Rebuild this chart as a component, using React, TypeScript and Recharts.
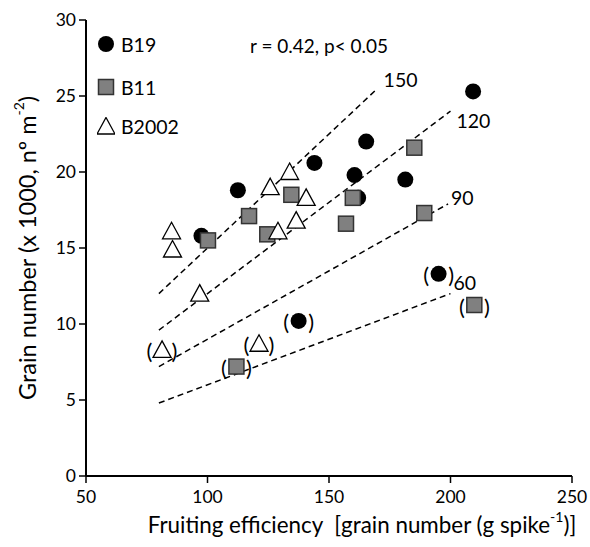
import React from 'react';
import {
  ScatterChart,
  Scatter,
  XAxis,
  YAxis,
  ReferenceLine,
  ReferenceDot
} from 'recharts';

// B19 (black circles)
const b19X = [97.5, 112.5, 144.0, 165.3, 160.5, 162.0, 181.4, 209.3];
const b19Y = [15.8, 18.8, 20.6, 22.0, 19.8, 18.3, 19.5, 25.3];
const b19OutX = [137.5, 195.1];
const b19OutY = [10.2, 13.3];

// B11 (grey squares)
const b11X = [100.2, 117.1, 134.5, 124.6, 159.8, 157.0, 185.1, 189.2];
const b11Y = [15.5, 17.1, 18.5, 15.9, 18.3, 16.6, 21.6, 17.3];
const b11OutX = [209.8, 111.9];
const b11OutY = [11.25, 7.2];

// B2002 (open triangles)
const b2002X = [85.2, 85.6, 125.8, 133.8, 140.6, 136.5, 129.0, 96.8];
const b2002Y = [16.1, 14.9, 19.0, 20.0, 18.3, 16.8, 16.1, 12.0];
const b2002OutX = [81.3, 121.2];
const b2002OutY = [8.3, 8.7];

// dashed iso-lines (spike weight), start/end
const isoLabels = ['150', '120', '90', '60'];
const isoStartX = [80, 80, 80, 80];
const isoStartY = [12.0, 9.6, 7.2, 4.8];
const isoEndX = [170, 200, 199, 200];
const isoEndY = [25.5, 24.0, 17.9, 12.0];

const xTicks = [50, 100, 150, 200, 250];
const yTicks = [0, 5, 10, 15, 20, 25, 30];

const legendNames = ['B19', 'B11', 'B2002'];

const FONT = 'Lato, "Open Sans", sans-serif';
// label offsets next to the line ends
const isoDx = [6, 6, 3, 3];
const isoDy = [-9, 9, -6, -11];

const toPoints = (xs: number[], ys: number[]) => xs.map((x, i) => ({ x, y: ys[i] }));

const circleShape = (p: any) => <circle cx={p.cx} cy={p.cy} r={8} fill="#000" />;
const squareShape = (p: any) => (
  <rect x={p.cx - 7.5} y={p.cy - 7.5} width={15} height={15} fill="#808080" stroke="#333" strokeWidth={1.5} />
);
const triangleShape = (p: any) => (
  <polygon
    points={`${p.cx},${p.cy - 9} ${p.cx + 9},${p.cy + 7.5} ${p.cx - 9},${p.cy + 7.5}`}
    fill="#fff"
    stroke="#000"
    strokeWidth={1.3}
  />
);

// marker wrapped in brackets
const bracketed = (marker: (p: any) => React.ReactElement) => (p: any) => (
  <g>
    {marker(p)}
    <text x={p.cx - 12.5} y={p.cy + 1} textAnchor="middle" dominantBaseline="central" fontSize={22} fontFamily={FONT} fill="#000">(</text>
    <text x={p.cx + 12.5} y={p.cy + 1} textAnchor="middle" dominantBaseline="central" fontSize={22} fontFamily={FONT} fill="#000">)</text>
  </g>
);

const legendIcons = [
  <circle cx={9} cy={9} r={8} fill="#000" />,
  <rect x={1.5} y={1.5} width={15} height={15} fill="#808080" stroke="#333" strokeWidth={1.5} />,
  <polygon points="9,0.5 18,17 0,17" fill="#fff" stroke="#000" strokeWidth={1.3} />
];
const legendTops = [35, 78, 117];

const yLabel = () => (
  <text
    x={27}
    y={248}
    transform="rotate(-90 27 248)"
    textAnchor="middle"
    dominantBaseline="central"
    fontSize={23.5}
    fontFamily={FONT}
    fill="#000"
  >
    Grain number (x 1000, nº m<tspan dy={-9} fontSize={14}>-2</tspan><tspan dy={9}>)</tspan>
  </text>
);

const xLabel = () => (
  <text
    x={362}
    y={524}
    textAnchor="middle"
    dominantBaseline="central"
    fontSize={22.4}
    fontFamily={FONT}
    fill="#000"
    style={{ whiteSpace: 'pre' }}
  >
    Fruiting efficiency  [grain number (g spike<tspan dy={-8} fontSize={14}>-1</tspan><tspan dy={8}>)]</tspan>
  </text>
);

export default function App() {
  const tickStyle = { fontSize: 17.5, fontFamily: FONT, fill: '#000' };
  return (
    <div style={{ position: 'absolute', left: 0, top: 0, width: 590, height: 547, background: '#fff' }}>
      <ScatterChart width={590} height={547} margin={{ top: 20, right: 18, bottom: 41, left: 26 }}>
        <XAxis
          type="number"
          dataKey="x"
          domain={[50, 250]}
          ticks={xTicks}
          tick={tickStyle}
          tickSize={7}
          tickMargin={8}
          height={30}
          stroke="#000"
          strokeWidth={2}
          tickLine={{ stroke: '#000', strokeWidth: 1.5 }}
          label={xLabel}
        />
        <YAxis
          type="number"
          dataKey="y"
          domain={[0, 30]}
          ticks={yTicks}
          tick={tickStyle}
          tickSize={7}
          tickMargin={3}
          width={60}
          stroke="#000"
          strokeWidth={2}
          tickLine={{ stroke: '#000', strokeWidth: 1.5 }}
          label={yLabel}
        />
        {isoLabels.map((lab, i) => (
          <ReferenceLine
            key={'l' + lab}
            segment={[
              { x: isoStartX[i], y: isoStartY[i] },
              { x: isoEndX[i], y: isoEndY[i] }
            ]}
            stroke="#000"
            strokeWidth={1.5}
            strokeDasharray="6 4"
            ifOverflow="visible"
          />
        ))}
        {isoLabels.map((lab, i) => (
          <ReferenceDot
            key={'d' + lab}
            x={isoEndX[i]}
            y={isoEndY[i]}
            ifOverflow="visible"
            shape={(p: any) => (
              <text
                x={p.cx + isoDx[i]}
                y={p.cy + isoDy[i]}
                dominantBaseline="central"
                fontSize={19.5}
                fontFamily={FONT}
                fill="#000"
              >
                {lab}
              </text>
            )}
          />
        ))}
        <Scatter name="B19" data={toPoints(b19X, b19Y)} shape={circleShape} isAnimationActive={false} />
        <Scatter name="B19 excl" data={toPoints(b19OutX, b19OutY)} shape={bracketed(circleShape)} isAnimationActive={false} />
        <Scatter name="B11" data={toPoints(b11X, b11Y)} shape={squareShape} isAnimationActive={false} />
        <Scatter name="B11 excl" data={toPoints(b11OutX, b11OutY)} shape={bracketed(squareShape)} isAnimationActive={false} />
        <Scatter name="B2002" data={toPoints(b2002X, b2002Y)} shape={triangleShape} isAnimationActive={false} />
        <Scatter name="B2002 excl" data={toPoints(b2002OutX, b2002OutY)} shape={bracketed(triangleShape)} isAnimationActive={false} />
      </ScatterChart>

      {/* legend, top-left inside the plot */}
      {legendNames.map((name, i) => (
        <div
          key={name}
          style={{
            position: 'absolute',
            left: 97,
            top: legendTops[i],
            display: 'flex',
            alignItems: 'center',
            height: 18,
            fontFamily: FONT,
            fontSize: 19.5,
            color: '#000',
            whiteSpace: 'nowrap'
          }}
        >
          <svg width={18} height={18} style={{ marginRight: 6 }}>{legendIcons[i]}</svg>
          <span>{name}</span>
        </div>
      ))}

      <div
        style={{
          position: 'absolute',
          left: 250,
          top: 34,
          fontFamily: FONT,
          fontSize: 19,
          lineHeight: '23px',
          color: '#000',
          whiteSpace: 'nowrap'
        }}
      >
        r = 0.42, p&lt; 0.05
      </div>
    </div>
  );
}
